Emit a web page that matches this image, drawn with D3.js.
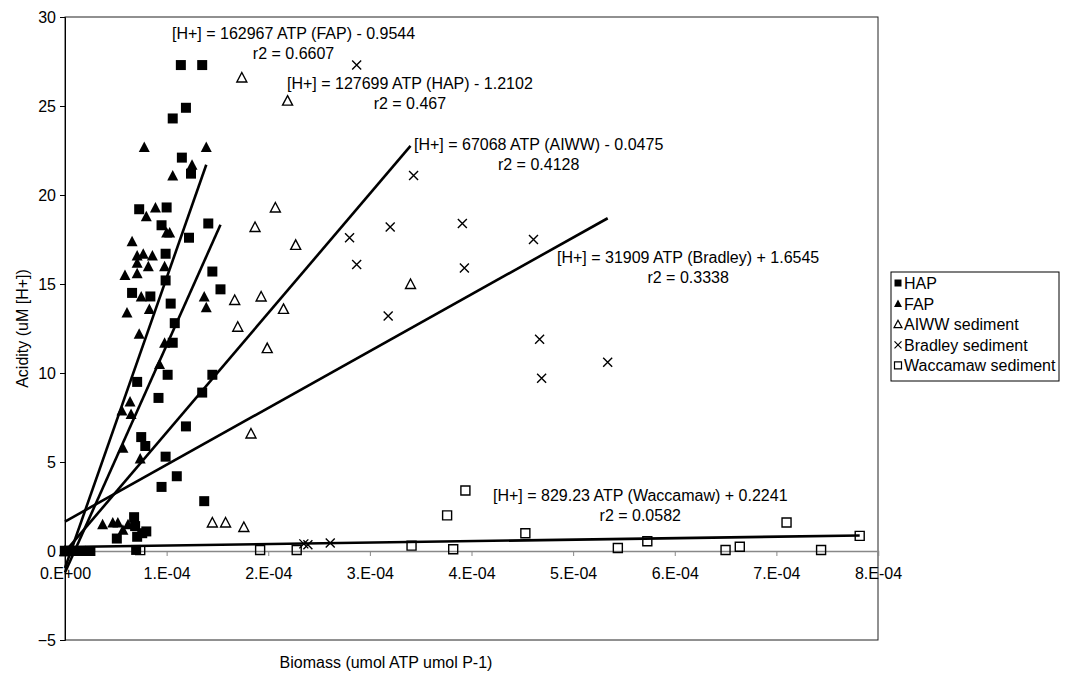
<!DOCTYPE html>
<html>
<head>
<meta charset="utf-8">
<script src="https://cdn.jsdelivr.net/npm/d3@7"></script>
<style>
  body { margin: 0; background: #fff; }
  text { font-family: "Liberation Sans", Arial, sans-serif; }
</style>
</head>
<body>
<script>
// values (x in umol ATP umol P-1, y in uM H+)
var hapX = [0, 0.05e-4, 0.1e-4, 0.15e-4, 0.2e-4, 0.25e-4,
  1.14e-4, 1.35e-4, 1.19e-4, 1.06e-4, 1.15e-4, 1.24e-4, 0.73e-4, 1.0e-4, 0.95e-4, 1.22e-4,
  1.41e-4, 0.99e-4, 0.99e-4, 1.45e-4, 0.66e-4, 0.84e-4, 1.53e-4, 1.04e-4, 1.08e-4, 1.06e-4,
  1.01e-4, 0.71e-4, 1.45e-4, 0.92e-4, 1.35e-4, 1.19e-4, 0.75e-4, 0.79e-4, 0.99e-4, 1.1e-4,
  0.95e-4, 1.37e-4, 0.68e-4, 0.69e-4, 0.8e-4, 0.76e-4, 0.71e-4, 0.51e-4, 0.7e-4];
var hapY = [0, 0, 0, 0, 0, 0,
  27.3, 27.3, 24.9, 24.3, 22.1, 21.2, 19.2, 19.3, 18.3, 17.6,
  18.4, 16.7, 15.2, 15.7, 14.5, 14.3, 14.7, 13.9, 12.8, 11.7,
  9.9, 9.5, 9.9, 8.6, 8.9, 7.0, 6.4, 5.9, 5.3, 4.2,
  3.6, 2.8, 1.9, 1.4, 1.1, 1.0, 0.8, 0.7, 0.06];

var fapX = [0, 0.1e-4, 0.2e-4,
  0.78e-4, 1.39e-4, 1.25e-4, 1.06e-4, 0.80e-4, 0.89e-4, 1.0e-4, 1.03e-4, 0.66e-4, 0.77e-4,
  0.71e-4, 0.86e-4, 0.71e-4, 0.82e-4, 0.98e-4, 0.59e-4, 0.71e-4, 0.75e-4, 1.37e-4, 1.39e-4,
  0.83e-4, 0.61e-4, 0.73e-4, 0.98e-4, 0.93e-4, 0.64e-4, 0.56e-4, 0.65e-4, 0.57e-4, 0.74e-4,
  0.37e-4, 0.47e-4, 0.52e-4, 0.57e-4, 0.62e-4];
var fapY = [0, 0, 0,
  22.7, 22.7, 21.7, 21.1, 18.8, 19.3, 17.9, 17.9, 17.4, 16.7,
  16.6, 16.6, 16.2, 16.0, 16.0, 15.5, 15.6, 14.3, 14.3, 13.7,
  13.6, 13.4, 12.2, 11.7, 10.5, 8.4, 7.9, 7.7, 5.8, 5.2,
  1.5, 1.6, 1.6, 1.2, 1.5];

var aiwwX = [0, 1.74e-4, 2.19e-4, 2.07e-4, 1.87e-4, 2.27e-4, 1.67e-4, 1.93e-4, 2.15e-4,
  1.70e-4, 1.99e-4, 3.4e-4, 1.83e-4, 1.45e-4, 1.58e-4, 1.76e-4];
var aiwwY = [0, 26.6, 25.3, 19.3, 18.2, 17.2, 14.1, 14.3, 13.6,
  12.6, 11.4, 15.0, 6.6, 1.6, 1.6, 1.35];

var bradleyX = [0, 2.87e-4, 3.43e-4, 2.8e-4, 3.2e-4, 3.91e-4, 4.61e-4, 2.87e-4, 3.93e-4,
  3.18e-4, 4.67e-4, 5.34e-4, 4.69e-4, 2.35e-4, 2.39e-4, 2.61e-4];
var bradleyY = [0, 27.3, 21.1, 17.6, 18.2, 18.4, 17.5, 16.1, 15.9,
  13.2, 11.9, 10.6, 9.7, 0.4, 0.35, 0.45];

var waccX = [0, 0.74e-4, 1.92e-4, 2.28e-4, 3.41e-4, 3.82e-4, 3.76e-4, 3.94e-4, 4.53e-4,
  5.44e-4, 5.73e-4, 6.5e-4, 6.64e-4, 7.1e-4, 7.44e-4, 7.82e-4];
var waccY = [0, 0.05, 0.06, 0.06, 0.3, 0.1, 2.0, 3.4, 1.0,
  0.17, 0.55, 0.06, 0.24, 1.6, 0.06, 0.85];

var seriesNames = ['HAP', 'FAP', 'AIWW sediment', 'Bradley sediment', 'Waccamaw sediment'];

// trendlines: slope, intercept, x range end
var trendSlope = [127699, 162967, 67068, 31909, 829.23];
var trendIntercept = [-1.2102, -0.9544, -0.0475, 1.6545, 0.2241];
var trendEnd = [1.53e-4, 1.39e-4, 3.4e-4, 5.34e-4, 7.82e-4];
var trendEq = ['[H+] = 127699 ATP (HAP) - 1.2102', '[H+] = 162967 ATP (FAP) - 0.9544',
  '[H+] = 67068 ATP (AIWW) - 0.0475', '[H+] = 31909 ATP (Bradley) + 1.6545',
  '[H+] = 829.23 ATP (Waccamaw) + 0.2241'];
var trendR2 = ['r2 = 0.467', 'r2 = 0.6607', 'r2 = 0.4128', 'r2 = 0.3338', 'r2 = 0.0582'];

var yTicks = [-5, 0, 5, 10, 15, 20, 25, 30];
var xTicks = [0, 1e-4, 2e-4, 3e-4, 4e-4, 5e-4, 6e-4, 7e-4, 8e-4];
var xTickLabels = ['0.E+00', '1.E-04', '2.E-04', '3.E-04', '4.E-04', '5.E-04', '6.E-04', '7.E-04', '8.E-04'];

var w = 1069, h = 679,
  pLeft = 65, pRight = 878, pTop = 17, pBottom = 640,
  fontSize = '16px';

var svg = d3.select('body').append('svg')
  .attr('width', w)
  .attr('height', h);

var x = d3.scaleLinear().domain([0, 8e-4]).range([pLeft, pRight]);
var y = d3.scaleLinear().domain([-5, 30]).range([pBottom, pTop]);

// plot area border
svg.append('rect')
  .attr('x', pLeft).attr('y', pTop)
  .attr('width', pRight - pLeft).attr('height', pBottom - pTop)
  .attr('fill', 'none')
  .attr('stroke', '#222')
  .attr('stroke-width', 1);

// y axis
var yAxis = svg.append('g')
  .attr('transform', 'translate(' + pLeft + ',0)')
  .call(d3.axisLeft(y).tickValues(yTicks).tickSize(5).tickPadding(4).tickFormat(d3.format('d')));
yAxis.select('.domain').attr('stroke', '#000');
yAxis.selectAll('text').attr('font-size', fontSize).attr('fill', '#000')
  .style('font-family', '"Liberation Sans", Arial, sans-serif');

// x axis crosses at y = 0
var xAxis = svg.append('g')
  .attr('transform', 'translate(0,' + y(0) + ')')
  .call(d3.axisBottom(x).tickValues(xTicks).tickSize(5).tickPadding(12)
    .tickFormat(function (d, i) { return xTickLabels[i]; }));
xAxis.select('.domain').attr('stroke', '#888').attr('stroke-width', 1.5);
xAxis.selectAll('line').attr('stroke', '#888');
xAxis.selectAll('text').attr('font-size', fontSize).attr('fill', '#000')
  .style('font-family', '"Liberation Sans", Arial, sans-serif');

function marker(type, s) {
  var k = s / 2;
  if (type === 'square') return 'M' + (-k) + ',' + (-k) + 'h' + s + 'v' + s + 'h' + (-s) + 'Z';
  if (type === 'triangle') return 'M0,' + (-k - 0.5) + 'L' + (k + 0.5) + ',' + k + 'L' + (-k - 0.5) + ',' + k + 'Z';
  return 'M' + (-k) + ',' + (-k) + 'L' + k + ',' + k + 'M' + k + ',' + (-k) + 'L' + (-k) + ',' + k;
}

var styles = [
  { shape: 'square', fill: '#000', stroke: 'none', size: 10 },
  { shape: 'triangle', fill: '#000', stroke: 'none', size: 10 },
  { shape: 'triangle', fill: 'none', stroke: '#000', size: 9 },
  { shape: 'cross', fill: 'none', stroke: '#000', size: 9 },
  { shape: 'square', fill: 'none', stroke: '#000', size: 9 }
];

var seriesX = [hapX, fapX, aiwwX, bradleyX, waccX];
var seriesY = [hapY, fapY, aiwwY, bradleyY, waccY];

seriesX.forEach(function (xs, si) {
  var st = styles[si];
  var pts = xs.map(function (v, i) { return [v, seriesY[si][i]]; });
  svg.append('g').selectAll('path').data(pts)
    .enter()
    .append('path')
    .attr('transform', function (d) { return 'translate(' + x(d[0]) + ',' + y(d[1]) + ')'; })
    .attr('d', marker(st.shape, st.size))
    .attr('fill', st.fill)
    .attr('stroke', st.stroke)
    .attr('stroke-width', 1.4);
});

// trendlines
var line = d3.line()
  .x(function (d) { return x(d[0]); })
  .y(function (d) { return y(d[1]); });
trendSlope.forEach(function (m, i) {
  var ends = [[0, trendIntercept[i]], [trendEnd[i], m * trendEnd[i] + trendIntercept[i]]];
  svg.append('path')
    .attr('d', line(ends))
    .attr('fill', 'none')
    .attr('stroke', '#000')
    .attr('stroke-width', 2.6);
});

// equation labels (pixel anchors of each label block)
var eqPos = [[287, 89], [172, 39], [414, 150], [557, 263], [493, 501]];
trendEq.forEach(function (t, i) {
  var eq = svg.append('text')
    .attr('x', eqPos[i][0]).attr('y', eqPos[i][1])
    .attr('font-size', fontSize)
    .text(t);
  var tw = eq.node().getComputedTextLength();
  svg.append('text')
    .attr('x', eqPos[i][0] + tw / 2).attr('y', eqPos[i][1] + 20)
    .attr('text-anchor', 'middle')
    .attr('font-size', fontSize)
    .text(trendR2[i]);
});

// axis titles
svg.append('text')
  .attr('transform', 'translate(28,' + ((pTop + pBottom) / 2) + ') rotate(-90)')
  .attr('text-anchor', 'middle')
  .attr('font-size', fontSize)
  .text('Acidity (uM [H+])');

svg.append('text')
  .attr('x', 386).attr('y', 668)
  .attr('text-anchor', 'middle')
  .attr('font-size', fontSize)
  .text('Biomass (umol ATP umol P-1)');

// legend
var lg = svg.append('g').attr('transform', 'translate(891,272)');
lg.append('rect')
  .attr('width', 168).attr('height', 109)
  .attr('fill', '#fff').attr('stroke', '#000').attr('stroke-width', 1);
seriesNames.forEach(function (n, i) {
  var st = styles[i];
  var cy = 11 + i * 20.6;
  lg.append('path')
    .attr('transform', 'translate(7,' + cy + ')')
    .attr('d', marker(st.shape, 7))
    .attr('fill', st.fill)
    .attr('stroke', st.stroke)
    .attr('stroke-width', 1.2);
  lg.append('text')
    .attr('x', 13).attr('y', cy + 6)
    .attr('font-size', fontSize)
    .text(n);
});
</script>
</body>
</html>
